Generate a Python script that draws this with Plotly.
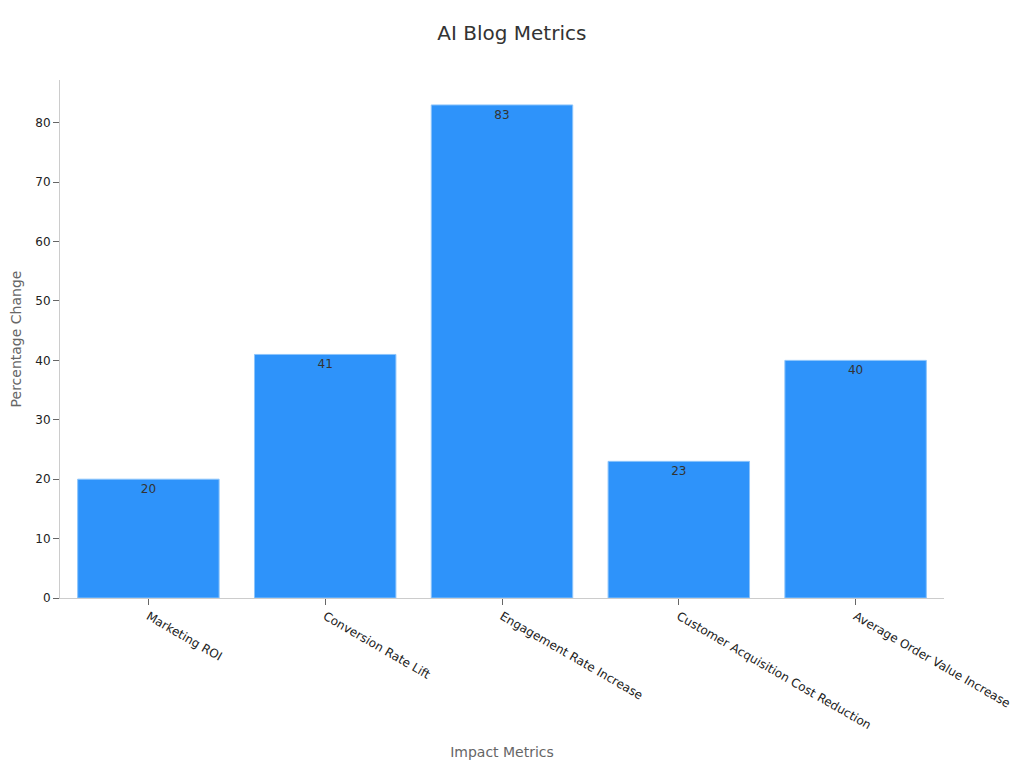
import plotly.graph_objects as go

# data
metrics = ["Marketing ROI", "Conversion Rate Lift", "Engagement Rate Increase",
           "Customer Acquisition Cost Reduction", "Average Order Value Increase"]
pct_change = [20, 41, 83, 23, 40]

fig = go.Figure()
fig.add_trace(go.Bar(
    x=metrics, y=pct_change,
    text=pct_change, textposition="inside", insidetextanchor="end",
    textfont=dict(color="#333333", size=12),
    marker=dict(color="#2e93fa", line=dict(color="#8cc4fb", width=1)),
    width=0.8,
))

fig.update_layout(
    width=1024, height=768,
    font=dict(family="DejaVu Sans", size=12, color="#333333"),
    title=dict(text="AI Blog Metrics", x=0.492, y=0.976, xanchor="center",
               font=dict(size=20, color="#333333")),
    plot_bgcolor="white", paper_bgcolor="white",
    margin=dict(l=52, r=88, t=72, b=178),
    showlegend=False,
)
fig.update_xaxes(
    title=dict(text="Impact Metrics", font=dict(size=14, color="#666666")),
    tickangle=30, ticks="outside", tickcolor="#666666", ticklen=6,
    showline=True, linecolor="#cccccc", showgrid=False,
    tickfont=dict(size=12, color="#222222"),
)
fig.update_yaxes(
    title=dict(text="Percentage Change", font=dict(size=14, color="#666666"), standoff=20),
    range=[0, 87.2], dtick=10, ticks="outside", tickcolor="#666666", ticklen=6,
    showline=True, linecolor="#cccccc", showgrid=False, zeroline=False,
    tickfont=dict(size=12, color="#222222"), automargin=False,
)

fig.write_html("out.html")
